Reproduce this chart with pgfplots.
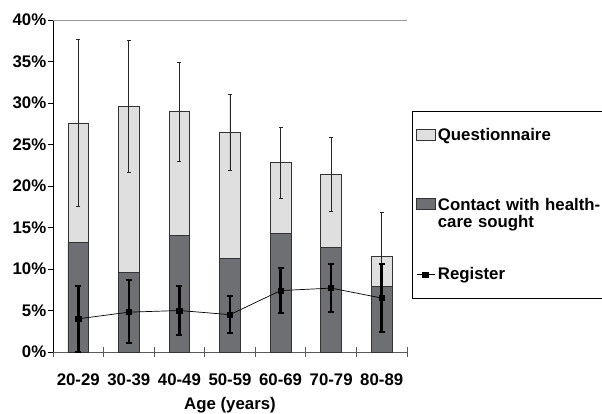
\documentclass[border=0pt]{standalone}
\usepackage{fontspec}
\setmainfont{Liberation Sans}
\usepackage{pgfplots}
\usepackage{pgfplotstable}
\pgfplotsset{compat=1.18}
\definecolor{qlight}{RGB}{223,223,224}
\definecolor{cdark}{RGB}{110,111,114}
\newcommand{\ff}{\bfseries\fontsize{16.8}{17.5}\selectfont}

\pgfplotstableread{
x q qp qm c r rp rm
1 27.6 10.1 10.0 13.2 4.0 3.95 4.0
2 29.6 8.0 8.0 9.6 4.8 3.9 3.7
3 28.95 5.95 5.95 14.05 5.0 2.95 2.9
4 26.5 4.5 4.6 11.3 4.5 2.2 2.2
5 22.8 4.3 4.3 14.3 7.4 2.7 2.7
6 21.4 4.5 4.4 12.6 7.7 2.9 2.9
7 11.5 5.3 5.3 7.9 6.5 4.1 4.1
}\data

\begin{document}
\begin{tikzpicture}
\useasboundingbox (-53pt,-61pt) rectangle (549pt,352pt);
\begin{axis}[
  scale only axis, width=354pt, height=332pt,
  xmin=0.5, xmax=7.5, ymin=0, ymax=40,
  axis x line*=bottom, axis y line*=left,
  x axis line style={draw=black!65, line width=0.8pt, -},
  y axis line style={draw=black, line width=0.8pt, -},
  xtick={0.5,1.5,...,7.5},
  xticklabels={20-29,30-39,40-49,50-59,60-69,70-79,80-89,{}},
  xticklabel style={xshift=25.29pt, yshift=-16pt},
  xtick align=center,
  x tick style={draw=black!65, line width=0.8pt, /pgfplots/major tick length=10pt},
  ytick={0,5,...,40},
  yticklabels={0\%,5\%,10\%,15\%,20\%,25\%,30\%,35\%,40\%},
  ytick align=outside,
  y tick style={draw=black, line width=0.8pt, /pgfplots/major tick length=5pt},
  yticklabel style={xshift=1pt},
  ticklabel style={font=\ff},
  xlabel={Age (years)},
  xlabel style={font=\ff, yshift=-5pt},
  legend style={at={(rel axis cs:1.014,0.726)}, anchor=north west,
    draw=black, line width=0.6pt, font=\ff, row sep=52pt,
    inner xsep=4pt, inner ysep=15pt,
    nodes={text width=178pt, align=left}},
  legend cell align=left,
]
\addplot[ybar, bar width=20.7pt, bar shift=0pt, fill=qlight, draw=black!80, line width=0.6pt,
  legend image code/.code={\draw[fill=qlight, draw=black!80, line width=0.6pt] (0pt,-5pt) rectangle (19pt,6pt);},
  error bars/.cd, y dir=both, y explicit,
  error bar style={black!85, line width=0.8pt},
  error mark options={rotate=90, mark size=2pt, black!85, line width=0.8pt}]
  table[x=x, y=q, y error plus=qp, y error minus=qm] {\data};
\addlegendentry{Questionnaire}
\addplot[ybar, bar width=20.7pt, bar shift=0pt, fill=cdark, draw=black!80, line width=0.6pt,
  legend image code/.code={\draw[fill=cdark, draw=black!80, line width=0.6pt] (0pt,-5pt) rectangle (19pt,6pt);}]
  table[x=x, y=c] {\data};
\addlegendentry{Contact with health-\\care sought}
\addplot[black, line width=0.7pt, mark=square*, mark size=2.6pt,
  legend image code/.code={
    \draw[black, line width=0.7pt] (0pt,0pt) -- (18pt,0pt);
    \fill[black] (6pt,-2.5pt) rectangle (12pt,2.5pt);},
  error bars/.cd, y dir=both, y explicit,
  error bar style={black, line width=2.6pt},
  error mark options={rotate=90, mark size=3pt, black, line width=2pt}]
  table[x=x, y=r, y error plus=rp, y error minus=rm] {\data};
\addlegendentry{Register\rule[-20pt]{0pt}{0pt}}
\draw[black!40, line width=0.8pt] (rel axis cs:0,1) -- (rel axis cs:1,1) -- (rel axis cs:1,0);
\end{axis}
\end{tikzpicture}
\end{document}
